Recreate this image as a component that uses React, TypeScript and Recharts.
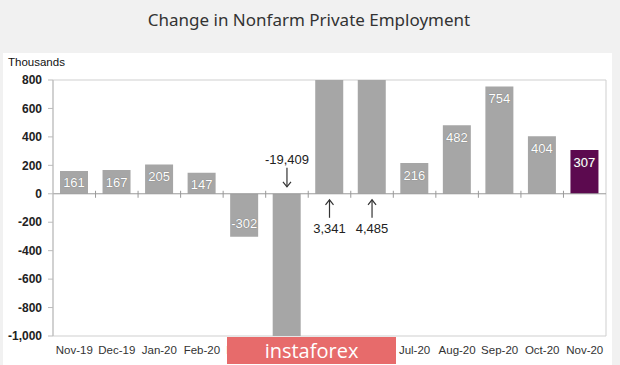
import React from 'react';
import { BarChart, Bar, XAxis, YAxis, LabelList, ReferenceLine, ReferenceArea, ReferenceDot, Cell } from 'recharts';

const categories = ['Nov-19', 'Dec-19', 'Jan-20', 'Feb-20', 'Mar-20', 'Apr-20', 'May-20', 'Jun-20', 'Jul-20', 'Aug-20', 'Sep-20', 'Oct-20', 'Nov-20'];
const values = [161, 167, 205, 147, -302, -19409, 3341, 4485, 216, 482, 754, 404, 307];
const yTicks = [800, 600, 400, 200, 0, -200, -400, -600, -800, -1000];
const yDomain = [-1000, 800];
const annotations = [
  { category: 'Apr-20', text: '-19,409', dir: 'down' },
  { category: 'May-20', text: '3,341', dir: 'up' },
  { category: 'Jun-20', text: '4,485', dir: 'up' },
];

const data = categories.map((c, i) => ({ month: c, value: values[i] }));

const FONT = '"Liberation Sans", Arial, sans-serif';
const GRAY = '#a6a6a6';
const PURPLE = '#5c0a4f';

const fmt = (v: number) => v.toLocaleString('en-US');

const BarLabel = (props: any) => {
  const { x, y, width, height, value } = props;
  if (value < yDomain[0] || value > yDomain[1]) return null;
  const top = Math.min(y, y + height);
  const bottom = Math.max(y, y + height);
  const cy = value >= 0 ? top + 12 : bottom - 13;
  return (
    <text x={x + width / 2} y={cy} textAnchor="middle" dominantBaseline="central" fill="#fff" fontSize={13} fontFamily={FONT} style={{ textShadow: '0 0 1px #666' }}>
      {fmt(value)}
    </text>
  );
};

const makeAnnot = (text: string, dir: string) => (props: any) => {
  const { cx, cy } = props;
  if (dir === 'down') {
    return (
      <g>
        <text x={cx} y={cy - 34} textAnchor="middle" dominantBaseline="central" fill="#222" fontSize={13} fontFamily={FONT}>{text}</text>
        <line x1={cx} y1={cy - 26} x2={cx} y2={cy - 7} stroke="#333" strokeWidth={1.2} />
        <polyline points={`${cx - 4},${cy - 12} ${cx},${cy - 7} ${cx + 4},${cy - 12}`} fill="none" stroke="#333" strokeWidth={1.2} />
      </g>
    );
  }
  return (
    <g>
      <line x1={cx} y1={cy + 6} x2={cx} y2={cy + 24} stroke="#333" strokeWidth={1.2} />
      <polyline points={`${cx - 4},${cy + 11} ${cx},${cy + 6} ${cx + 4},${cy + 11}`} fill="none" stroke="#333" strokeWidth={1.2} />
      <text x={cx} y={cy + 35} textAnchor="middle" dominantBaseline="central" fill="#222" fontSize={13} fontFamily={FONT}>{text}</text>
    </g>
  );
};

const ZeroLine = (props: any) => {
  const { x1, y1, x2 } = props;
  const n = categories.length;
  const step = (x2 - x1) / n;
  const ticks = [];
  for (let i = 1; i < n; i++) {
    const tx = x1 + i * step;
    ticks.push(<line key={i} x1={tx} y1={y1 - 3} x2={tx} y2={y1 + 4} stroke="#999" strokeWidth={1} />);
  }
  return (
    <g>
      <line x1={x1} y1={y1} x2={x2} y2={y1} stroke="#999" strokeWidth={1} />
      {ticks}
    </g>
  );
};

export default function App() {
  return (
    <div style={{ position: 'absolute', left: 0, top: 0, width: 620, height: 365, background: '#f1f1f1', overflow: 'hidden' }}>
      <div style={{ position: 'absolute', left: 3, top: 53, width: 609, height: 312, background: '#fff' }} />
      <div style={{ position: 'absolute', left: 0, top: 8, width: 618, textAlign: 'center', fontFamily: '"Noto Sans", sans-serif', fontSize: 17, color: '#333' }}>
        Change in Nonfarm Private Employment
      </div>
      <div style={{ position: 'absolute', left: 8, top: 56, fontFamily: FONT, fontSize: 11.5, color: '#111' }}>Thousands</div>
      <div style={{ position: 'absolute', left: 0, top: 0 }}>
        <BarChart width={620} height={365} data={data} margin={{ top: 80, right: 14, bottom: 9, left: 8 }} barSize={28}>
          <ReferenceArea y1={yDomain[0]} y2={yDomain[1]} fill="none" stroke="#cfcfcf" strokeWidth={1} ifOverflow="visible" />
          <XAxis dataKey="month" axisLine={false} tickLine={false} height={20} interval={0} tick={{ fill: '#333', fontSize: 11.5, fontFamily: FONT }} tickMargin={4} />
          <YAxis domain={yDomain} ticks={yTicks} allowDataOverflow width={45} interval={0} tickFormatter={fmt}
            axisLine={{ stroke: '#bbb' }} tickLine={{ stroke: '#bbb' }} tickSize={5} tickMargin={6}
            tick={{ fill: '#222', fontSize: 12, fontFamily: FONT, fontWeight: 'bold' }} />
          <Bar dataKey="value" isAnimationActive={false} fill={GRAY}>
            {data.map((d, i) => (
              <Cell key={i} fill={i === data.length - 1 ? PURPLE : GRAY} />
            ))}
            <LabelList dataKey="value" content={BarLabel} />
          </Bar>
          <ReferenceLine y={0} shape={ZeroLine} />
          {annotations.map((a) => (
            <ReferenceDot key={a.category} x={a.category} y={0} r={0} shape={makeAnnot(a.text, a.dir)} />
          ))}
        </BarChart>
      </div>
      <div style={{ position: 'absolute', left: 227, top: 337, width: 169, height: 27, background: '#e76b6b', color: '#fff', fontFamily: '"Open Sans", sans-serif', fontSize: 20, lineHeight: '27px', textAlign: 'center' }}>
        instaforex
      </div>
    </div>
  );
}
